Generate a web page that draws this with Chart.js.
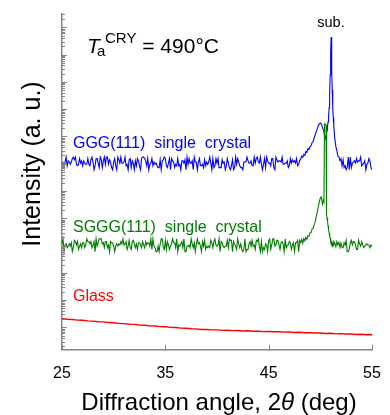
<!doctype html>
<html lang="en">
<head>
<meta charset="utf-8">
<title>XRD patterns</title>
<style>
  * { padding: 0; margin: 0; }
  body { background: #fff; }
  div { width: 390px; height: 415px; }
</style>
<script src="https://cdn.jsdelivr.net/npm/chart.js"></script>
</head>
<body>
<div><canvas id="xrdChart" width="390" height="415"></canvas></div>
<script>
// scan angles (2theta, deg) shared by the two crystal patterns
const angles = [
  25, 25.1, 25.2, 25.3, 25.4, 25.5, 25.6, 25.7, 25.8, 25.9,
  26, 26.1, 26.2, 26.3, 26.4, 26.5, 26.6, 26.7, 26.8, 26.9,
  27, 27.1, 27.2, 27.3, 27.4, 27.5, 27.6, 27.7, 27.8, 27.9,
  28, 28.1, 28.2, 28.3, 28.4, 28.5, 28.6, 28.7, 28.8, 28.9,
  29, 29.1, 29.2, 29.3, 29.4, 29.5, 29.6, 29.7, 29.8, 29.9,
  30, 30.1, 30.2, 30.3, 30.4, 30.5, 30.6, 30.7, 30.8, 30.9,
  31, 31.1, 31.2, 31.3, 31.4, 31.5, 31.6, 31.7, 31.8, 31.9,
  32, 32.1, 32.2, 32.3, 32.4, 32.5, 32.6, 32.7, 32.8, 32.9,
  33, 33.1, 33.2, 33.3, 33.4, 33.5, 33.6, 33.7, 33.8, 33.9,
  34, 34.1, 34.2, 34.3, 34.4, 34.5, 34.6, 34.7, 34.8, 34.9,
  35, 35.1, 35.2, 35.3, 35.4, 35.5, 35.6, 35.7, 35.8, 35.9,
  36, 36.1, 36.2, 36.3, 36.4, 36.5, 36.6, 36.7, 36.8, 36.9,
  37, 37.1, 37.2, 37.3, 37.4, 37.5, 37.6, 37.7, 37.8, 37.9,
  38, 38.1, 38.2, 38.3, 38.4, 38.5, 38.6, 38.7, 38.8, 38.9,
  39, 39.1, 39.2, 39.3, 39.4, 39.5, 39.6, 39.7, 39.8, 39.9,
  40, 40.1, 40.2, 40.3, 40.4, 40.5, 40.6, 40.7, 40.8, 40.9,
  41, 41.1, 41.2, 41.3, 41.4, 41.5, 41.6, 41.7, 41.8, 41.9,
  42, 42.1, 42.2, 42.3, 42.4, 42.5, 42.6, 42.7, 42.8, 42.9,
  43, 43.1, 43.2, 43.3, 43.4, 43.5, 43.6, 43.7, 43.8, 43.9,
  44, 44.1, 44.2, 44.3, 44.4, 44.5, 44.6, 44.7, 44.8, 44.9,
  45, 45.1, 45.2, 45.3, 45.4, 45.5, 45.6, 45.7, 45.8, 45.9,
  46, 46.1, 46.2, 46.3, 46.4, 46.5, 46.6, 46.7, 46.8, 46.9,
  47, 47.1, 47.2, 47.3, 47.4, 47.5, 47.6, 47.7, 47.8, 47.9,
  48, 48.1, 48.2, 48.3, 48.4, 48.5, 48.6, 48.7, 48.8, 48.9,
  49, 49.1, 49.2, 49.3, 49.4, 49.5, 49.6, 49.7, 49.8, 49.9,
  50, 50.1, 50.2, 50.3,
  50.35, 50.4, 50.45, 50.5, 50.55, 50.6, 50.65, 50.7, 50.75, 50.8,
  50.85, 50.9, 50.95, 51, 51.05, 51.1, 51.15, 51.2, 51.25, 51.3,
  51.4, 51.5, 51.6, 51.7, 51.8, 51.9,
  52, 52.1, 52.2, 52.3, 52.4, 52.5, 52.6, 52.7, 52.8, 52.9,
  53, 53.1, 53.2, 53.3, 53.4, 53.5, 53.6, 53.7, 53.8, 53.9,
  54, 54.1, 54.2, 54.3, 54.4, 54.5, 54.6, 54.7, 54.8, 54.9,
  55
];

const gggIntensity = [
  0.72e6, 1.05e6, 0.72e6, 1.15e6, 1.75e6, 0.84e6, 1.27e6, 1.15e6, 0.95e6, 1.15e6,
  1.55e6, 1.75e6, 1.4e6, 1.75e6, 0.95e6, 0.84e6, 0.95e6, 1.55e6, 1.05e6, 1.27e6,
  0.84e6, 1.27e6, 1.05e6, 0.95e6, 0.95e6, 1.55e6, 0.95e6, 0.84e6, 1.4e6, 1.75e6,
  1.15e6, 0.6e6, 0.84e6, 1.55e6, 1.55e6, 1.05e6, 0.72e6, 1.75e6, 1.4e6, 0.72e6,
  1.27e6, 1.75e6, 0.95e6, 1.75e6, 1.75e6, 0.95e6, 1.4e6, 1.15e6, 0.72e6, 0.6e6,
  1.15e6, 1.55e6, 0.84e6, 0.6e6, 1.75e6, 1.4e6, 1.05e6, 1.75e6, 1.05e6, 1.05e6,
  1.15e6, 1.75e6, 0.84e6, 0.95e6, 0.6e6, 1.4e6, 1.55e6, 0.72e6, 1.27e6, 1.05e6,
  0.6e6, 1.27e6, 0.84e6, 1.55e6, 1.27e6, 0.84e6, 0.6e6, 1.55e6, 1.75e6, 1.75e6,
  1.55e6, 1.27e6, 0.84e6, 1.55e6, 0.6e6, 0.95e6, 1.05e6, 1.55e6, 0.84e6, 1.15e6,
  0.95e6, 1.05e6, 0.84e6, 0.72e6, 0.72e6, 1.4e6, 0.6e6, 1.27e6, 1.4e6, 1.75e6,
  1.55e6, 0.84e6, 0.72e6, 1.05e6, 1.55e6, 0.6e6, 1.55e6, 1.27e6, 1.15e6, 0.72e6,
  0.95e6, 0.84e6, 1.55e6, 0.84e6, 0.95e6, 0.6e6, 1.27e6, 1.27e6, 1.05e6, 1.4e6,
  0.6e6, 1.75e6, 0.95e6, 1.55e6, 1.05e6, 1.05e6, 1.27e6, 0.6e6, 1.75e6, 1.15e6,
  1.15e6, 0.6e6, 1.15e6, 1.55e6, 0.84e6, 0.84e6, 0.95e6, 0.72e6, 1.4e6, 0.84e6,
  1.15e6, 0.95e6, 1.15e6, 1.75e6, 1.05e6, 0.6e6, 1.55e6, 0.72e6, 0.84e6, 1.55e6,
  1.05e6, 1.55e6, 0.72e6, 0.72e6, 0.72e6, 1.4e6, 1.05e6, 1.15e6, 0.6e6, 0.84e6,
  1.55e6, 1.05e6, 0.72e6, 0.6e6, 0.84e6, 1.4e6, 0.6e6, 0.72e6, 1.75e6, 0.95e6,
  1.55e6, 1.15e6, 0.84e6, 0.72e6, 0.72e6, 0.6e6, 1.15e6, 1.15e6, 1.15e6, 1.75e6,
  1.27e6, 1.05e6, 1.05e6, 1.27e6, 0.84e6, 0.84e6, 1.75e6, 1.05e6, 1.55e6, 1.75e6,
  1.15e6, 1.05e6, 1.75e6, 0.95e6, 0.6e6, 0.95e6, 1.55e6, 0.72e6, 1.75e6, 1.27e6,
  1.05e6, 1.05e6, 0.84e6, 1.55e6, 1.55e6, 0.72e6, 0.6e6, 1.75e6, 1.4e6, 1.15e6,
  1.27e6, 1.27e6, 1.15e6, 1.75e6, 0.95e6, 0.95e6, 1.05e6, 1.05e6, 1.27e6, 0.72e6,
  0.84e6, 1.55e6, 1.05e6, 1.4e6, 1.15e6, 1.27e6, 1.05e6, 1.55e6, 0.84e6, 0.95e6,
  1.3e6, 1.5e6, 1.9e6, 1.7e6, 2.2e6, 2.0e6, 2.8e6, 2.6e6, 3.6e6, 3.3e6,
  4.2e6, 4.6e6, 5.9e6, 6.5e6, 8.9e6, 1.1e7, 1.5e7, 1.9e7, 2.4e7, 2.9e7,
  3.1e7, 2.8e7, 2.2e7, 1.7e7,
  1.46e7, 1.13e7, 9.6e6, 8.8e6, 9.6e6, 1.24e7, 1.73e7, 2.43e7, 3.4e7, 5.6e7,
  1.11e8, 3.3e8, 1.79e9, 1.24e10, 4.4e10, 2.73e9, 5.05e8, 1.11e8, 4.8e7, 2.43e7,
  8.1e6, 4.3e6, 3.0e6, 1.9e6, 1.8e6, 1.3e6,
  1.5e6, 0.84e6, 1.4e6, 0.72e6, 0.84e6, 0.6e6, 0.72e6, 1.75e6, 0.6e6, 1.75e6,
  0.72e6, 1.05e6, 1.15e6, 1.27e6, 1.05e6, 1.55e6, 1.15e6, 1.27e6, 1.27e6, 1.75e6,
  0.84e6, 0.95e6, 1.05e6, 1.27e6, 0.6e6, 0.95e6, 1.05e6, 1.55e6, 1.27e6, 0.72e6,
  0.6e6
];

const sgggIntensity = [
  1150, 1750, 600, 1050, 1150, 840, 950, 1150, 950, 1270,
  600, 840, 1550, 1400, 1050, 1400, 720, 950, 1150, 840,
  1270, 1270, 840, 1050, 1750, 1400, 1400, 1150, 1400, 840,
  1050, 1400, 600, 1750, 950, 1270, 1750, 1750, 1750, 1150,
  1270, 840, 1400, 1400, 840, 1050, 600, 1400, 1270, 1270,
  950, 600, 950, 1150, 950, 1150, 1050, 1400, 1150, 1750,
  1050, 1150, 1400, 720, 950, 1550, 840, 720, 1400, 1550,
  1150, 840, 1150, 720, 1270, 1270, 1050, 840, 1400, 1050,
  840, 1400, 1050, 1270, 1270, 950, 1750, 720, 1750, 950,
  840, 600, 600, 950, 600, 1150, 1750, 1750, 840, 720,
  1550, 720, 1400, 1050, 720, 950, 1150, 1750, 1270, 1270,
  840, 1750, 600, 1050, 950, 1150, 1400, 840, 1750, 600,
  600, 950, 950, 1050, 840, 1750, 1150, 840, 1270, 600,
  1150, 1750, 1150, 1270, 950, 600, 1400, 950, 1550, 720,
  950, 840, 950, 840, 1550, 1270, 840, 1400, 1750, 1050,
  950, 1050, 1750, 600, 1400, 1270, 950, 840, 950, 950,
  1550, 840, 1750, 1550, 1550, 600, 1400, 1150, 950, 720,
  1750, 1150, 840, 1150, 720, 600, 720, 1750, 600, 720,
  720, 1150, 1400, 950, 1550, 950, 1050, 720, 1550, 1400,
  1750, 950, 600, 1400, 600, 840, 720, 1150, 1050, 600,
  1550, 1750, 720, 1050, 1750, 1750, 950, 1050, 1550, 1550,
  1050, 720, 1270, 1400, 1150, 600, 1750, 840, 1050, 1050,
  1400, 1270, 720, 1050, 1270, 600, 1270, 1270, 1550, 600,
  1550, 1300, 1700, 1200, 1800, 1500, 2000, 1700, 2300, 2200,
  2900, 3000, 4000, 4200, 6000, 7200, 11500, 16500, 27000, 39000,
  56000, 61000, 33000, 46000,
  40000, 2.8e7, 2.9e7, 2.8e7, 2.6e7, 13300, 10300, 7400, 5300, 3800,
  2900, 2260, 1900, 1400, 1100, 1500, 900, 1300, 1000, 1400,
  1200, 900, 1400, 1050, 1300, 850,
  1250, 840, 840, 1270, 1050, 1550, 600, 600, 720, 1270,
  1550, 1050, 1400, 1400, 1050, 720, 720, 1550, 1150, 950,
  1400, 1050, 840, 950, 1050, 1150, 1050, 1050, 840, 1050,
  950
];

const glassAngles = [
  25, 25.5, 26, 26.5, 27, 27.5, 28, 28.5, 29, 29.5,
  30, 30.5, 31, 31.5, 32, 32.5, 33, 33.5, 34, 34.5,
  35, 35.5, 36, 36.5, 37, 37.5, 38, 38.5, 39, 39.5,
  40, 40.5, 41, 41.5, 42, 42.5, 43, 43.5, 44, 44.5,
  45, 45.5, 46, 46.5, 47, 47.5, 48, 48.5, 49, 49.5,
  50, 50.5, 51, 51.5, 52, 52.5, 53, 53.5, 54, 54.5, 55
];
const glassIntensity = [
  2.07, 1.98, 1.95, 1.85, 1.82, 1.73, 1.70, 1.61, 1.59, 1.51,
  1.48, 1.40, 1.38, 1.31, 1.29, 1.22, 1.20, 1.14, 1.13, 1.07,
  1.06, 1.00, 0.99, 0.94, 0.93, 0.89, 0.88, 0.84, 0.84, 0.81,
  0.81, 0.78, 0.79, 0.76, 0.77, 0.74, 0.75, 0.72, 0.73, 0.70,
  0.71, 0.69, 0.69, 0.67, 0.68, 0.65, 0.66, 0.64, 0.64, 0.62,
  0.62, 0.60, 0.61, 0.58, 0.59, 0.57, 0.57, 0.55, 0.56, 0.54, 0.535
];

const xTicks = [25, 35, 45, 55];
const seriesNames = ['GGG(111) single crystal', 'SGGG(111) single crystal', 'Glass'];

const fam = "'Liberation Sans', Arial, sans-serif";
const axisGrey = '#858585';
Chart.defaults.font.family = fam;

// labels placed in data coordinates (angle, intensity)
const notes = [
  { text: seriesNames[0], color: '#0000ff', angle: 26.06, level: 3.8e6 },
  { text: seriesNames[1], color: '#007d00', angle: 26.06, level: 3.2e3 },
  { text: seriesNames[2], color: '#ff0000', angle: 26.06, level: 9.4 }
];

const decorations = {
  id: 'decorations',
  afterDraw(chart) {
    const { ctx, chartArea, scales: { x, y } } = chart;
    ctx.save();

    // inward tick marks, log minor ticks on y
    ctx.strokeStyle = axisGrey;
    ctx.lineWidth = 1;
    ctx.beginPath();
    for (let e = -1; e <= 11; e++) {
      for (let k = 1; k <= 9; k++) {
        const v = k * Math.pow(10, e);
        if (v < y.min || v > y.max) continue;
        const py = Math.round(y.getPixelForValue(v)) + 0.5;
        ctx.moveTo(chartArea.left, py);
        ctx.lineTo(chartArea.left + (k === 1 ? 5 : 3), py);
      }
    }
    xTicks.forEach(t => {
      const px = Math.round(x.getPixelForValue(t)) + 0.5;
      ctx.moveTo(px, chartArea.bottom);
      ctx.lineTo(px, chartArea.bottom - 5);
    });
    ctx.stroke();

    ctx.textBaseline = 'alphabetic';
    ctx.textAlign = 'left';

    // series labels, words set a little apart as in the original
    ctx.font = '16px ' + fam;
    notes.forEach(n => {
      ctx.fillStyle = n.color;
      ctx.fillText(n.text.split(' ').join('  '), x.getPixelForValue(n.angle), y.getPixelForValue(n.level));
    });

    // T_a^CRY = 490°C
    ctx.fillStyle = '#000';
    const tx = x.getPixelForValue(27.42), ty = y.getPixelForValue(1.19e10);
    ctx.font = 'italic 21px ' + fam;
    ctx.fillText('T', tx, ty);
    ctx.font = '15px ' + fam;
    ctx.fillText('a', tx + 10, ty + 3);
    ctx.fillText('CRY', tx + 18, ty - 9.5);
    const cw = ctx.measureText('CRY').width;
    ctx.font = '21px ' + fam;
    ctx.fillText(' = 490°C', tx + 18 + cw, ty);

    // substrate peak marker
    ctx.font = '14.5px ' + fam;
    ctx.textAlign = 'center';
    ctx.fillText('sub.', x.getPixelForValue(51.03), y.getPixelForValue(1.0e11));

    // x title with italic theta
    const p1 = 'Diffraction angle, 2', p2 = '\u03B8', p3 = ' (deg)';
    ctx.textAlign = 'left';
    ctx.font = '24px ' + fam;
    const w1 = ctx.measureText(p1).width, w3 = ctx.measureText(p3).width;
    ctx.font = 'italic 24px ' + fam;
    const w2 = ctx.measureText(p2).width;
    const sx = (chartArea.left + chartArea.right) / 2 + 2 - (w1 + w2 + w3) / 2;
    ctx.font = '24px ' + fam;
    ctx.fillText(p1, sx, 410);
    ctx.font = 'italic 24px ' + fam;
    ctx.fillText(p2, sx + w1, 410);
    ctx.font = '24px ' + fam;
    ctx.fillText(p3, sx + w1 + w2, 410);

    // y title
    ctx.translate(40, 164);
    ctx.rotate(-Math.PI / 2);
    ctx.textAlign = 'center';
    ctx.font = '25px ' + fam;
    ctx.fillText('Intensity (a. u.)', 0, 0);

    ctx.restore();
  }
};

const toPoints = (xs, ys) => xs.map((a, i) => ({ x: a, y: ys[i] }));

const chart = new Chart(document.getElementById('xrdChart'), {
  type: 'line',
  data: {
    datasets: [
      { label: seriesNames[1], data: toPoints(angles, sgggIntensity), borderColor: '#007d00' },
      { label: seriesNames[0], data: toPoints(angles, gggIntensity), borderColor: '#0000ff' },
      { label: seriesNames[2], data: toPoints(glassAngles, glassIntensity), borderColor: '#ff0000', borderWidth: 1.4 }
    ]
  },
  options: {
    responsive: false,
    animation: false,
    devicePixelRatio: 1,
    layout: { padding: { left: 62, right: 18, top: 14, bottom: 18 } },
    plugins: { legend: { display: false }, tooltip: { enabled: false } },
    elements: {
      point: { radius: 0 },
      line: { borderWidth: 1.1, tension: 0, fill: false }
    },
    scales: {
      x: {
        type: 'linear',
        min: 25,
        max: 55,
        afterBuildTicks: s => { s.ticks = xTicks.map(v => ({ value: v })); },
        afterFit: s => { s.paddingLeft = 0; s.paddingRight = 0; },
        grid: { display: false, drawTicks: false },
        border: { display: true, color: axisGrey, width: 1.5 },
        ticks: { color: '#000', font: { size: 16 }, padding: 14, maxRotation: 0, autoSkip: false }
      },
      y: {
        type: 'logarithmic',
        min: 0.151,
        max: 3.07e11,
        grid: { display: false, drawTicks: false },
        border: { display: true, color: axisGrey, width: 1.5 },
        ticks: { display: false }
      }
    }
  },
  plugins: [decorations]
});
</script>
</body>
</html>
